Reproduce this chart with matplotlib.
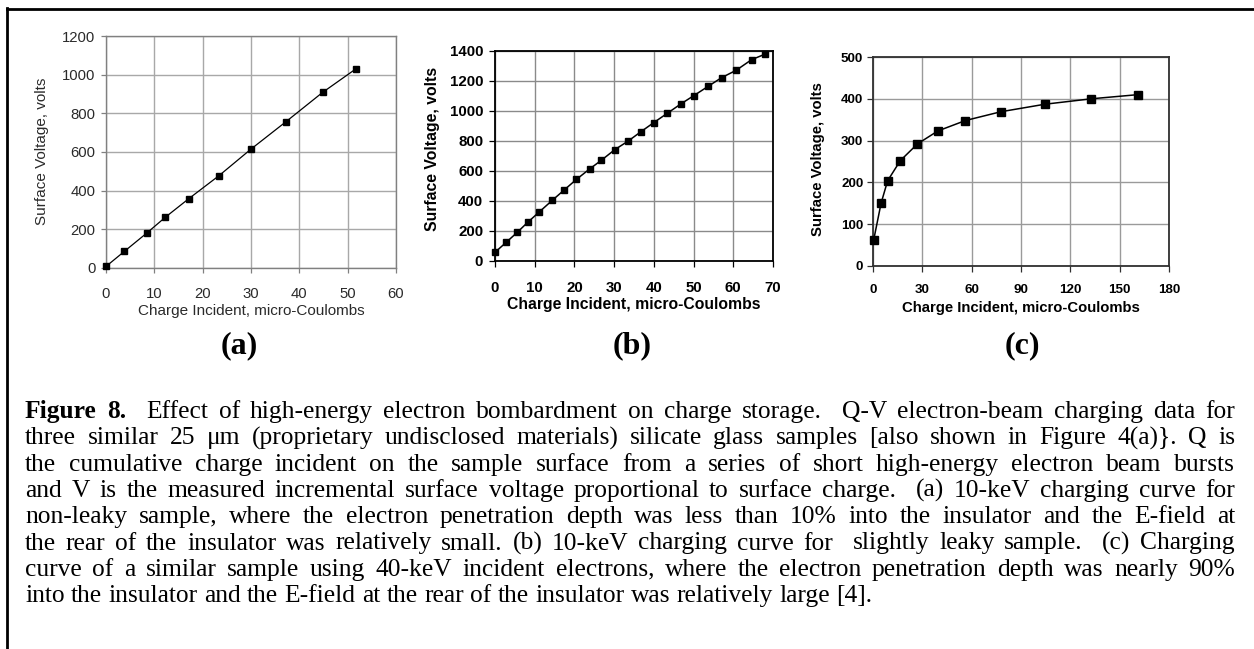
import matplotlib
matplotlib.use('Agg')
import matplotlib.pyplot as plt
from matplotlib.lines import Line2D

# ===== Data =====
q_a = [0, 3.8, 8.4, 12.3, 17.1, 23.4, 30.0, 37.2, 44.8, 51.7]
v_a = [8, 86, 180, 263, 358, 478, 615, 756, 908, 1030]

q_b = [0, 2.8, 5.6, 8.2, 11.1, 14.4, 17.4, 20.5, 23.9, 26.8, 30.2,
       33.5, 36.8, 40.0, 43.4, 46.9, 50.1, 53.7, 57.1, 60.7, 64.6, 67.9]
v_b = [58, 124, 191, 257, 326, 404, 473, 544, 615, 672, 743,
       799, 863, 923, 985, 1049, 1103, 1165, 1223, 1271, 1342, 1378]

q_c = [0.4, 4.9, 8.9, 16.6, 27.0, 39.4, 56.2, 77.7, 104.5, 132.7, 161.3]
v_c = [62, 150, 204, 252, 292, 323, 348, 369, 387, 400, 410]

xlabel = 'Charge Incident, micro-Coulombs'
ylabel = 'Surface Voltage, volts'
panel_tags = ['(a)', '(b)', '(c)']

caption_lines = [
    'Figure 8.  Effect of high-energy electron bombardment on charge storage.  Q-V electron-beam charging data for',
    'three similar 25 \u03bcm (proprietary undisclosed materials) silicate glass samples [also shown in Figure 4(a)}. Q is',
    'the cumulative charge incident on the sample surface from a series of short high-energy electron beam bursts',
    'and V is the measured incremental surface voltage proportional to surface charge.  (a) 10-keV charging curve for',
    'non-leaky sample, where the electron penetration depth was less than 10% into the insulator and the E-field at',
    'the rear of the insulator was relatively small. (b) 10-keV charging curve for  slightly leaky sample.  (c) Charging',
    'curve of a similar sample using 40-keV incident electrons, where the electron penetration depth was nearly 90%',
    'into the insulator and the E-field at the rear of the insulator was relatively large [4].',
]

# ===== Figure =====
W, H = 1254, 649
fig = plt.figure(figsize=(W / 100, H / 100), dpi=100)
SANS = 'Liberation Sans'
SERIF = 'Liberation Serif'


def fx(x):
    return x / W


def fy(y):
    return 1 - y / H


def add_ax(l, t, r, b):
    return fig.add_axes([fx(l), fy(b), (r - l) / W, (b - t) / H])


# frame lines round the figure (top and left only)
fig.add_artist(Line2D([fx(7.3), 1.0], [fy(8.7), fy(8.7)], lw=2.0, color='k'))
fig.add_artist(Line2D([fx(7.3), fx(7.3)], [fy(7.5), 0.0], lw=2.0, color='k'))


def style_panel(ax, xmax, xstep, ymax, ystep, spine_c, grid_c, lw_sp, tick_c,
                fs, weight, tick_len, xpad, ypad):
    ax.set_xlim(0, xmax)
    ax.set_ylim(0, ymax)
    ax.set_xticks(range(0, xmax + 1, xstep))
    ax.set_yticks(range(0, ymax + 1, ystep))
    ax.grid(True, color=grid_c, lw=1.0)
    ax.set_axisbelow(True)
    for s in ax.spines.values():
        s.set_color(spine_c)
        s.set_linewidth(lw_sp)
    ax.tick_params(direction='out', length=tick_len, width=0.9, color=spine_c,
                   labelcolor=tick_c, labelsize=fs)
    ax.tick_params(axis='x', pad=xpad)
    ax.tick_params(axis='y', pad=ypad)
    for lab in ax.get_xticklabels() + ax.get_yticklabels():
        lab.set_fontfamily(SANS)
        lab.set_fontweight(weight)


# ----- panel (a) -----
ax0 = add_ax(106, 36, 396, 268)
style_panel(ax0, 60, 10, 1200, 200, '#808080', '#a8a8a8', 1.0, '#2a2a2a',
            10.7, 'normal', 3.5, 10, 4)
ax0.plot(q_a, v_a, '-', color='k', lw=0.9, zorder=3)
ax0.plot(q_a, v_a, 's', color='k', ms=3.8, clip_on=False, zorder=4)
fig.text(fx(251), fy(311), xlabel, family=SANS, fontsize=11, color='#2a2a2a',
         ha='center', va='center')
fig.text(fx(42), fy(151), ylabel, family=SANS, fontsize=11, color='#2a2a2a',
         ha='center', va='center', rotation=90)

# ----- panel (b) -----
ax1 = add_ax(495, 51, 773, 261)
style_panel(ax1, 70, 10, 1400, 200, '#000000', '#8a8a8a', 1.3, '#000000',
            10.8, 'bold', 4.5, 10, 4)
ax1.plot(q_b, v_b, '-', color='k', lw=1.1, zorder=3)
ax1.plot(q_b, v_b, 's', color='k', ms=4.8, clip_on=False, zorder=4)
fig.text(fx(634), fy(305), xlabel, family=SANS, fontsize=11.3, weight='bold',
         ha='center', va='center')
fig.text(fx(433), fy(149), ylabel, family=SANS, fontsize=11.3, weight='bold',
         ha='center', va='center', rotation=90)

# ----- panel (c) -----
ax2 = add_ax(873, 57, 1169, 266)
style_panel(ax2, 180, 30, 500, 100, '#303030', '#9a9a9a', 1.3, '#000000',
            9.6, 'bold', 4, 9, 3)
ax2.plot(q_c, v_c, '-', color='k', lw=1.1, zorder=3)
ax2.plot(q_c, v_c, 's', color='k', ms=5.8, clip_on=False, zorder=4)
fig.text(fx(1021), fy(308), xlabel, family=SANS, fontsize=10.7, weight='bold',
         ha='center', va='center')
fig.text(fx(818), fy(159), ylabel, family=SANS, fontsize=10.7, weight='bold',
         ha='center', va='center', rotation=90)

# panel tags
for tag, xc in zip(panel_tags, [239, 632, 1022]):
    fig.text(fx(xc), fy(346), tag, family=SERIF, fontsize=23, weight='bold',
             ha='center', va='center')

# ===== Caption, justified line by line =====
renderer = fig.canvas.get_renderer()
cap_fs = 18.4
x_left, x_right = 25, 1235
base0, step = 418, 26.3


def word_width(word, weight):
    t = fig.text(0, 0, word, family=SERIF, fontsize=cap_fs, weight=weight)
    w = t.get_window_extent(renderer).width
    t.remove()
    return w


space_w = word_width('a a', 'normal') - 2 * word_width('a', 'normal')

for i, line in enumerate(caption_lines):
    y = base0 + i * step
    parts = line.split(' ')
    words, gaps = [], []
    n_sp = 0
    for p in parts:
        if p == '':
            n_sp += 1
            continue
        if words:
            gaps.append(n_sp + 1)
        words.append(p)
        n_sp = 0
    weights = ['normal'] * len(words)
    if i == 0:
        weights[0] = 'bold'
        weights[1] = 'bold'
    widths = [word_width(w, wt) for w, wt in zip(words, weights)]
    last = i == len(caption_lines) - 1
    if last:
        unit = space_w
    else:
        unit = (x_right - x_left - sum(widths)) / sum(gaps)
    x = x_left
    for k, (w, wt) in enumerate(zip(words, weights)):
        fig.text(fx(x), fy(y), w, family=SERIF, fontsize=cap_fs, weight=wt,
                 ha='left', va='baseline')
        x += widths[k]
        if k < len(gaps):
            x += gaps[k] * unit

fig.savefig('out.png', dpi=100)
plt.close(fig)
